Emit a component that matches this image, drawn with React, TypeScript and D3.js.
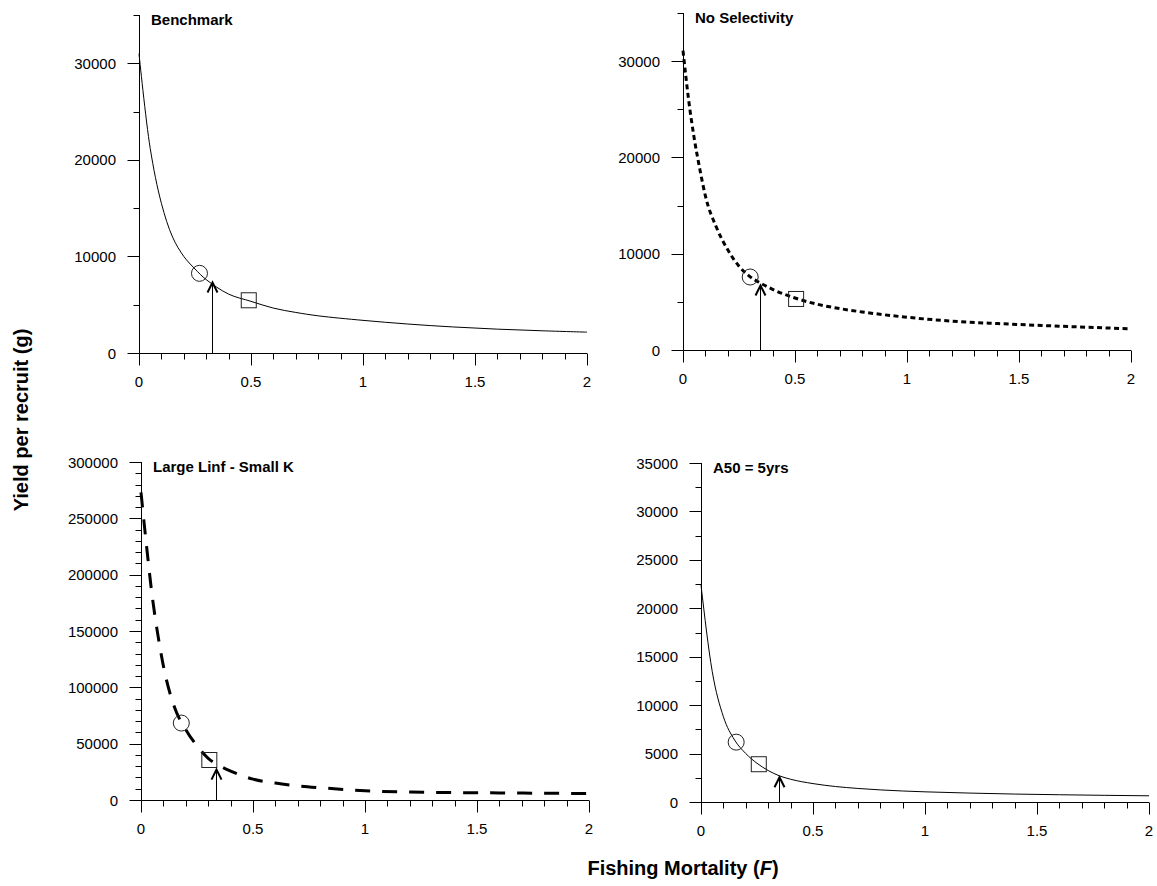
import React from 'react';
import * as d3 from 'd3';

// F grids the curves were read on
const fCoarse = [0, 0.05, 0.1, 0.15, 0.2, 0.25, 0.3, 0.4, 0.5, 0.6, 0.7, 0.8, 1, 1.2, 1.4, 1.6, 1.8, 2];
const fFine = [0, 0.025, 0.05, 0.075, 0.1, 0.15, 0.2, 0.25, 0.3, 0.35, 0.4, 0.5, 0.6, 0.7, 0.8, 1, 1.2, 1.4, 1.6, 1.8, 2];
const fA50 = [0, 0.05, 0.1, 0.15, 0.2, 0.25, 0.3, 0.35, 0.4, 0.5, 0.6, 0.7, 0.8, 1, 1.2, 1.4, 1.6, 1.8, 2];

// yield per recruit (g)
const benchmarkYpr = [31000, 21200, 15500, 12000, 10000, 8700, 7600, 6100, 5350, 4650, 4200, 3850, 3380, 3000, 2700, 2470, 2300, 2160];
const noSelectivityYpr = [31100, 26000, 22000, 18800, 16000, 12700, 10400, 8700, 7600, 6900, 6300, 5400, 4750, 4300, 3950, 3400, 3000, 2750, 2550, 2370, 2200];
const largeLinfYpr = [273000, 225000, 181000, 147000, 119000, 82000, 62500, 48000, 37000, 30500, 25700, 18500, 15000, 12600, 10900, 8200, 7100, 6600, 6300, 6000, 5800];
const a50Ypr = [22400, 13500, 8800, 6400, 5000, 4000, 3250, 2700, 2350, 1900, 1600, 1400, 1250, 1050, 920, 820, 750, 690, 640];

const panelTitles = ['Benchmark', 'No Selectivity', 'Large Linf - Small K', 'A50 = 5yrs'];
const yMax = [35000, 35000, 300000, 35000];
const yMajorStep = [10000, 10000, 50000, 5000];
const yMinorStep = [5000, 5000, 10000, 2500];

// reference points and arrows
const circleF = [0.27, 0.3, 0.18, 0.157];
const circleYpr = [8250, 7580, 68300, 6180];
const squareF = [0.49, 0.505, 0.305, 0.258];
const squareYpr = [5460, 5300, 35500, 3900];
const arrowF = [0.326, 0.344, 0.336, 0.35];
const arrowTipYpr = [7300, 6700, 27000, 2550];

const xTicks = [0, 0.5, 1, 1.5, 2];
const xMinor = d3.range(0, 21).map((i) => i / 10);

const series = [
  { f: fCoarse, y: benchmarkYpr, curve: d3.curveLinear },
  { f: fFine, y: noSelectivityYpr, curve: d3.curveMonotoneX },
  { f: fFine, y: largeLinfYpr, curve: d3.curveMonotoneX },
  { f: fA50, y: a50Ypr, curve: d3.curveMonotoneX },
];

const layout = [
  { left: 139, right: 587, top: 15, bottom: 353, dash: 'none', width: 1 },
  { left: 683, right: 1131, top: 13, bottom: 350, dash: '5 3.5', width: 3 },
  { left: 141, right: 589, top: 462, bottom: 800, dash: '15 12', width: 3 },
  { left: 701, right: 1149, top: 463, bottom: 802, dash: 'none', width: 1 },
];

const font = 'Liberation Sans, Arial, sans-serif';

const Panel = ({ i }: { i: number }) => {
  const L = layout[i];
  const x = d3.scaleLinear().domain([0, 2]).range([L.left, L.right]);
  const y = d3.scaleLinear().domain([0, yMax[i]]).range([L.bottom, L.top]);
  const major = d3.range(0, yMax[i] + 1, yMajorStep[i]);
  const minor = d3.range(0, yMax[i] + 1, yMinorStep[i]).filter((v) => v % yMajorStep[i] !== 0);
  const pts = series[i].f.map((f, k) => [f, series[i].y[k]] as [number, number]);
  const path = d3
    .line<[number, number]>()
    .x((d) => x(d[0]))
    .y((d) => y(d[1]))
    .curve(i === 0 ? d3.curveCatmullRom.alpha(0.5) : series[i].curve)(pts);
  const ax = Math.round(x(arrowF[i])) + 0.5;
  const tipY = y(arrowTipYpr[i]);
  const X0 = Math.round(L.left) + 0.5;
  const Y0 = Math.round(L.bottom) + 0.5;

  return (
    <g>
      {/* y axis */}
      <line x1={X0} x2={X0} y1={y(yMax[i])} y2={Y0} stroke='#000' />
      {major.map((v) => (
        <g key={'M' + v}>
          <line x1={X0 - 12} x2={X0} y1={Math.round(y(v)) + 0.5} y2={Math.round(y(v)) + 0.5} stroke='#000' />
          <text x={L.left - 23} y={y(v) + 5.5} textAnchor='end' fontSize='15' fontFamily={font}>
            {v}
          </text>
        </g>
      ))}
      {minor.map((v) => (
        <line key={'m' + v} x1={X0 - 6} x2={X0} y1={Math.round(y(v)) + 0.5} y2={Math.round(y(v)) + 0.5} stroke='#000' />
      ))}
      {/* x axis */}
      <line x1={X0} x2={x(2)} y1={Y0} y2={Y0} stroke='#000' />
      {xMinor.map((v) => {
        const isMajor = xTicks.some((t) => Math.abs(t - v) < 1e-6);
        const px = Math.round(x(v)) + 0.5;
        return <line key={'x' + v} x1={px} x2={px} y1={Y0} y2={Y0 + (isMajor ? 12 : 6)} stroke='#000' />;
      })}
      {xTicks.map((v) => (
        <text key={'xl' + v} x={x(v)} y={L.bottom + 34} textAnchor='middle' fontSize='15' fontFamily={font}>
          {v}
        </text>
      ))}
      <text x={L.left + 12} y={L.top + 10} fontSize='15' fontWeight='bold' fontFamily={font}>
        {panelTitles[i]}
      </text>
      {/* curve */}
      <path
        d={path || ''}
        fill='none'
        stroke='#000'
        strokeWidth={L.width}
        strokeDasharray={L.dash}
      />
      {/* markers */}
      <circle cx={x(circleF[i])} cy={y(circleYpr[i])} r='8' fill='none' stroke='#222' strokeWidth='1' />
      <rect
        x={x(squareF[i]) - 7.5}
        y={y(squareYpr[i]) - 7.5}
        width='15'
        height='15'
        fill='none'
        stroke='#222'
        strokeWidth='1'
      />
      {/* arrow */}
      <line x1={ax} x2={ax} y1={Y0} y2={tipY + 1} stroke='#000' strokeWidth='1' />
      <path
        d={`M${ax - 5},${tipY + 10} L${ax},${tipY} L${ax + 5},${tipY + 10}`}
        fill='none'
        stroke='#000'
        strokeWidth='2'
      />
    </g>
  );
};

const App = () => {
  return (
    <svg
      width='1157'
      height='886'
      viewBox='0 0 1157 886'
      style={{ position: 'absolute', left: 0, top: 0, background: '#fff' }}
    >
      {[0, 1, 2, 3].map((i) => (
        <Panel key={i} i={i} />
      ))}
      <text
        transform='translate(28,420) rotate(-90)'
        textAnchor='middle'
        fontSize='20'
        fontWeight='bold'
        fontFamily={font}
      >
        Yield per recruit (g)
      </text>
      <text x='683' y='875' textAnchor='middle' fontSize='20' fontWeight='bold' fontFamily={font}>
        Fishing Mortality (<tspan fontStyle='italic'>F</tspan>)
      </text>
    </svg>
  );
};

export default App;
